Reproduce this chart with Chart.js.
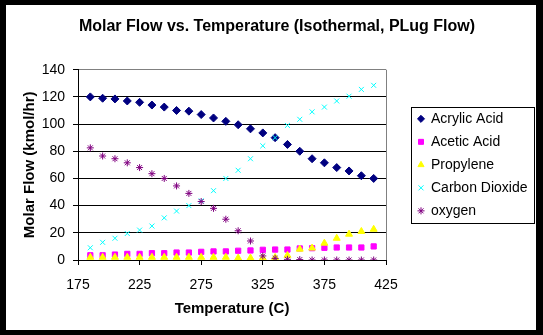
<!DOCTYPE html>
<html>
<head>
<meta charset="utf-8">
<title>Molar Flow vs. Temperature</title>
<script src="https://cdn.jsdelivr.net/npm/chart.js@4.4.1/dist/chart.umd.min.js"></script>
<style>
	html, body {
		margin: 0;
		padding: 0;
		background: #fff;
	}
	#frame {
		width: 543px;
		height: 335px;
		box-sizing: border-box;
		border-style: solid;
		border-color: #000;
		border-width: 5px 7px 5px 6px;
		background: #fff;
	}
	#frame canvas {
		display: block;
	}
</style>
</head>
<body>
<div id="frame">
	<canvas id="chart" width="530" height="325"></canvas>
</div>
<script>
'use strict';

// Temperature (C) of each sample
const temps = [185, 195, 205, 215, 225, 235, 245, 255, 265, 275, 285, 295,
	305, 315, 325, 335, 345, 355, 365, 375, 385, 395, 405, 415];

// Molar flows (kmol/hr), one value per temperature
const acrylicAcid = [120, 119, 118.5, 117, 116, 114, 112.5, 110, 109.5, 107, 104.5, 102,
	99.5, 96.5, 93.5, 90, 85, 80, 74.5, 71.5, 68, 65.5, 62, 60];
const aceticAcid = [3.5, 3.5, 4, 4.5, 4.5, 5, 5, 5.5, 5.5, 6, 6.3, 6.3,
	6.8, 7, 7.5, 7.7, 7.7, 8.5, 8.7, 9, 9.2, 9.2, 9.2, 10];
const propylene = [2, 2, 2, 2, 2, 2, 2, 2, 2, 2, 2, 2,
	1.5, 1.5, 1.5, 1.9, 3.4, 8, 8.8, 12.4, 16, 19, 21, 22.6];
const carbonDioxide = [9, 13, 16, 19.5, 22, 25, 31, 36, 40, 43.5, 51, 60,
	66, 74.5, 84, 90, 99, 103.5, 109, 112.5, 117, 120.5, 125.5, 128.5];
const oxygen = [82.5, 76.5, 74.5, 71.5, 68, 63.5, 60, 54.5, 49, 43, 38, 30,
	21.5, 14, 3, 1.2, 0.5, 0.3, 0, 0, 0, 0, 0, 0];

const seriesNames = ['Acrylic Acid', 'Acetic Acid', 'Propylene', 'Carbon Dioxide', 'oxygen'];

// x axis range and y axis range: min, max, step
const xTicks = [175, 425, 50];
const yTicks = [0, 140, 20];

const FONT = "'Liberation Sans', Arial, sans-serif";

function toPoints(values) {
	return temps.map(function (t, i) {
		return {x: t, y: values[i]};
	});
}

/**
 * Build one scatter dataset
 * @param {string} label series name
 * @param {array} values y values
 * @param {string} color marker colour
 * @param {string} style Chart.js point style
 * @param {number} radius marker radius
 * @param {number} index series position (later series drawn on top)
 */
function makeSeries(label, values, color, style, radius, index) {
	return {
		label: label,
		data: toPoints(values),
		showLine: false,
		pointStyle: style,
		pointRadius: radius,
		pointBorderWidth: 1,
		backgroundColor: color,
		borderColor: color,
		order: 10 - index
	};
}

// Reserve room on the right for the legend and push it off the plot a bit
const legendPlacement = {
	id: 'legendPlacement',
	beforeLayout: function (chart) {
		let lg = chart.legend;
		if (lg && !lg._widened) {
			let fit = lg.fit;
			lg.fit = function () {
				fit.call(this);
				this.width = 152;
			};
			lg._widened = true;
		}
	},
	afterLayout: function (chart) {
		chart.legend.left += 23;
		chart.legend.right += 23;
	}
};

// Draws the box around the legend, like the Excel legend
const legendBox = {
	id: 'legendBox',
	afterDraw: function (chart) {
		let lg = chart.legend;
		let ctx = chart.ctx;
		let cy = (lg.top + lg.bottom) / 2;
		ctx.save();
		ctx.strokeStyle = '#000';
		ctx.lineWidth = 1;
		ctx.strokeRect(Math.round(lg.left + 2) + 0.5, Math.round(cy - 58) + 0.5, 123, 116);
		ctx.restore();
	}
};

function createChart() {
	let ctx = document.getElementById('chart');

	new Chart(ctx, {
		type: 'scatter',
		data: {
			datasets: [
				makeSeries(seriesNames[0], acrylicAcid, '#000080', 'rectRot', 4, 0),
				makeSeries(seriesNames[1], aceticAcid, '#FF00FF', 'rect', 3.7, 1),
				makeSeries(seriesNames[2], propylene, '#FFFF00', 'triangle', 4, 2),
				makeSeries(seriesNames[3], carbonDioxide, '#00FFFF', 'crossRot', 3.5, 3),
				makeSeries(seriesNames[4], oxygen, '#800080', 'star', 3.5, 4)
			]
		},
		options: {
			responsive: false,
			animation: false,
			layout: {
				padding: {left: 10, right: -2, top: 0, bottom: 8}
			},
			plugins: {
				title: {
					display: true,
					text: 'Molar Flow vs. Temperature (Isothermal, PLug Flow)',
					color: '#000',
					font: {family: FONT, size: 16, weight: 'bold'},
					padding: {top: 12, bottom: 33.5}
				},
				legend: {
					position: 'right',
					align: 'center',
					fullSize: false,
					labels: {
						usePointStyle: true,
						boxWidth: 6,
						boxHeight: 5,
						padding: 9,
						color: '#000',
						font: {family: FONT, size: 14},
						sort: function (a, b) {
							return a.datasetIndex - b.datasetIndex;
						}
					}
				},
				tooltip: {enabled: false}
			},
			scales: {
				x: {
					type: 'linear',
					min: xTicks[0],
					max: xTicks[1],
					ticks: {
						stepSize: xTicks[2],
						padding: 12,
						color: '#000',
						maxRotation: 0,
						font: {family: FONT, size: 14}
					},
					grid: {
						drawOnChartArea: true,
						tickLength: 5,
						tickColor: '#000',
						color: function (c) {
							return c.tick && c.tick.value === xTicks[1] ? '#808080' : 'rgba(0,0,0,0)';
						}
					},
					border: {color: '#000', width: 1},
					title: {
						display: true,
						text: 'Temperature (C)',
						color: '#000',
						font: {family: FONT, size: 15, weight: 'bold'},
						padding: {top: 6, bottom: 4}
					},
					afterFit: function (scale) {
						scale.height = 62;
					}
				},
				y: {
					min: yTicks[0],
					max: yTicks[1],
					ticks: {
						stepSize: yTicks[2],
						padding: 8,
						color: '#000',
						font: {family: FONT, size: 14}
					},
					grid: {
						tickLength: 5,
						tickColor: '#000',
						color: function (c) {
							return c.tick && c.tick.value === yTicks[1] ? '#808080' : '#000';
						}
					},
					border: {color: '#000', width: 1},
					title: {
						display: true,
						text: 'Molar Flow (kmol/hr)',
						color: '#000',
						font: {family: FONT, size: 15, weight: 'bold'},
						padding: {top: 5, bottom: 0}
					},
					afterFit: function (scale) {
						scale.width = 62;
					}
				}
			}
		},
		plugins: [legendPlacement, legendBox]
	});
}

createChart();
</script>
</body>
</html>
